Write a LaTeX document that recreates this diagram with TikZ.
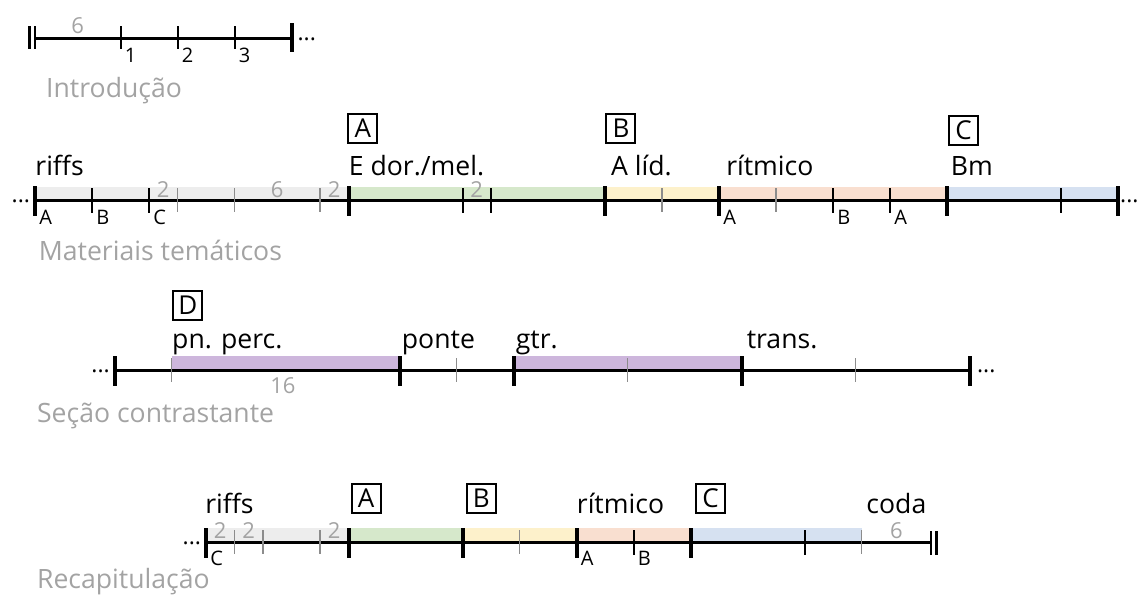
\documentclass[tikz,border=0pt]{standalone}
\usepackage{fontspec}
\setmainfont{Open Sans}
\definecolor{riffgray}{HTML}{EDEDED}
\definecolor{dorgreen}{HTML}{D6E8CB}
\definecolor{lidyellow}{HTML}{FDF1CB}
\definecolor{ritsalmon}{HTML}{F9DFD0}
\definecolor{bmblue}{HTML}{D6E1F1}
\definecolor{percpurple}{HTML}{CDB6DC}
\definecolor{labgray}{HTML}{A3A3A3}
\definecolor{tickgray}{HTML}{8C8C8C}
\tikzset{ timeline/.style = { line width = 1.5pt }
        , bar/.style      = { line width = 2pt }
        , sub/.style      = { line width = 1pt }
        , fine/.style     = { line width = 0.6pt
                            , draw       = tickgray
                            }
        , lab/.style      = { anchor     = base west
                            , inner sep  = 0pt
                            , font       = \fontsize{13.3}{16}\selectfont
                            }
        , sect/.style     = { lab
                            , text       = labgray
                            }
        , box/.style      = { draw
                            , line width = 1pt
                            , inner sep  = 0pt
                            , minimum size = 14.5pt
                            , font       = \fontsize{13}{15}\selectfont
                            }
        , num/.style      = { anchor     = base
                            , inner sep  = 0pt
                            , text       = labgray
                            , font       = \fontsize{11}{13}\selectfont
                            }
        , sublab/.style   = { anchor     = base west
                            , inner sep  = 0pt
                            , xshift     = 2pt
                            , font       = \fontsize{10}{12}\selectfont
                            }
        , cont/.style     = { inner sep  = 0pt
                            , font       = \fontsize{11.5}{14}\selectfont
                            }
        }
\begin{document}
\begin{tikzpicture}[x=28.5pt, y=-0.5pt]
  \useasboundingbox (-0.614,0) rectangle (19.333,594);
  % Introducao
  \begin{scope}[shift={(0,38)}]
    \coordinate (i0) at (0,0);
    \coordinate (i1) at (4.5,0);
    \draw[timeline] (i0) -- (i1);
    \draw[bar, line width=1.3pt] (-0.1,-12) -- (-0.1,11)  (0,-12) -- (0,11);
    \draw[bar] (4.5,-15) -- (4.5,14);
    \foreach \x/\t in {1.5/1, 2.5/2, 3.5/3} {
      \draw[sub] (\x,-12) -- (\x,11);
      \node[sublab] (i\t) at (\x,24) {\t};
    }
    \node[num] (isix) at (0.75,-5) {6};
    \node[cont, anchor=base west] (idots) at (4.6,2) {...};
  \end{scope}
  \node[sect] (intro) at (0.19,97) {Introdução};
  % Materiais tematicos
  \begin{scope}[shift={(0,200)}]
    \fill[riffgray]   (0,-13)    rectangle (5.5,0);
    \fill[dorgreen]   (5.5,-13)  rectangle (10,0);
    \fill[lidyellow]  (10,-13)   rectangle (12,0);
    \fill[ritsalmon]  (12,-13)   rectangle (16,0);
    \fill[bmblue]     (16,-13)   rectangle (19,0);
    \coordinate (m0) at (0,0);
    \coordinate (m1) at (19,0);
    \draw[timeline] (m0) -- (m1);
    \foreach \x in {0, 5.5, 10, 12, 16, 19}
      \draw[bar] (\x,-14) -- (\x,16);
    \foreach \x in {1, 2, 7.5, 8, 14, 15, 18}
      \draw[sub] (\x,-12) -- (\x,13);
    \foreach \x in {2.5, 3.5, 5, 11, 13}
      \draw[fine] (\x,-12) -- (\x,12);
    \node[sublab] (mA)  at (0,24)  {A};
    \node[sublab] (mB)  at (1,24)  {B};
    \node[sublab] (mC)  at (2,24)  {C};
    \node[sublab] (mA2) at (12,24) {A};
    \node[sublab] (mB2) at (14,24) {B};
    \node[sublab] (mA3) at (15,24) {A};
    \node[num] (mtwo)   at (2.25,-3) {2};
    \node[num] (msix)   at (4.25,-3) {6};
    \node[num] (mtwo2)  at (5.25,-3) {2};
    \node[num] (mtwo3)  at (7.75,-3) {2};
    \node[lab] (mriffs) at (0,-25)    {riffs};
    \node[lab] (mdor)   at (5.5,-25)  {E dor./mel.};
    \node[lab] (mlid)   at (10.1,-25) {A líd.};
    \node[lab] (mrit)   at (12.12,-25) {rítmico};
    \node[lab] (mbm)    at (16.06,-25) {Bm};
    \node[box] (mboxA)  at (5.75,-72)  {A};
    \node[box] (mboxB)  at (10.28,-72) {B};
    \node[box] (mboxC)  at (16.29,-70) {C};
    \node[cont, anchor=base east] (mdotsl) at (-0.08,2) {...};
    \node[cont, anchor=base west] (mdotsr) at (19.03,2) {...};
  \end{scope}
  \node[sect] (mat) at (0.06,260) {Materiais temáticos};
  % Secao contrastante
  \begin{scope}[shift={(1.4,370)}]
    \fill[percpurple] (1,-14) rectangle (5,0);
    \fill[percpurple] (7,-14) rectangle (11,0);
    \coordinate (s0) at (0,0);
    \coordinate (s1) at (15,0);
    \draw[timeline] (s0) -- (s1);
    \foreach \x in {0, 5, 7, 11, 15}
      \draw[bar] (\x,-14) -- (\x,16);
    \foreach \x in {1, 6, 9, 13}
      \draw[fine] (\x,-12) -- (\x,12);
    \node[lab] (sperc)  at (1,-22)    {pn. perc.};
    \node[lab] (sponte) at (5.03,-22) {ponte};
    \node[lab] (sgtr)   at (7.03,-22) {gtr.};
    \node[lab] (strans) at (11.08,-22) {trans.};
    \node[box] (sboxD)  at (1.28,-65) {D};
    \node[num] (ssixt)  at (2.95,23)  {16};
    \node[cont, anchor=base east] (sdotsl) at (-0.08,2) {...};
    \node[cont, anchor=base west] (sdotsr) at (15.12,2) {...};
  \end{scope}
  \node[sect] (sec) at (0.03,422) {Seção contrastante};
  % Recapitulacao
  \begin{scope}[shift={(0,542)}]
    \fill[riffgray]   (3,-14)    rectangle (5.5,0);
    \fill[dorgreen]   (5.5,-14)  rectangle (7.5,0);
    \fill[lidyellow]  (7.5,-14)  rectangle (9.5,0);
    \fill[ritsalmon]  (9.5,-14)  rectangle (11.5,0);
    \fill[bmblue]     (11.5,-14) rectangle (14.5,0);
    \coordinate (r0) at (3,0);
    \coordinate (r1) at (15.72,0);
    \draw[timeline] (r0) -- (r1);
    \foreach \x in {3, 5.5, 7.5, 9.5, 11.5}
      \draw[bar] (\x,-14) -- (\x,16);
    \foreach \x in {10.5, 13.5}
      \draw[sub] (\x,-12) -- (\x,13);
    \foreach \x in {3.5, 4, 5, 8.5, 14.5}
      \draw[fine] (\x,-12) -- (\x,12);
    \draw[bar, line width=1.3pt] (15.72,-11) -- (15.72,13)  (15.82,-11) -- (15.82,13);
    \node[sublab] (rC) at (3,23)    {C};
    \node[sublab] (rA) at (9.5,23)  {A};
    \node[sublab] (rB) at (10.5,23) {B};
    \node[num] (rtwo)  at (3.25,-4)  {2};
    \node[num] (rtwo2) at (3.75,-4)  {2};
    \node[num] (rtwo3) at (5.25,-4)  {2};
    \node[num] (rsix)  at (15.11,-4) {6};
    \node[lab] (rriffs) at (2.98,-29)  {riffs};
    \node[lab] (rrit)   at (9.5,-29)   {rítmico};
    \node[lab] (rcoda)  at (14.58,-29) {coda};
    \node[box] (rboxA)  at (5.81,-44)  {A};
    \node[box] (rboxB)  at (7.83,-44)  {B};
    \node[box] (rboxC)  at (11.85,-44) {C};
    \node[cont, anchor=base east] (rdotsl) at (2.92,2) {...};
  \end{scope}
  \node[sect] (rec) at (0.03,588) {Recapitulação};
\end{tikzpicture}
\end{document}
